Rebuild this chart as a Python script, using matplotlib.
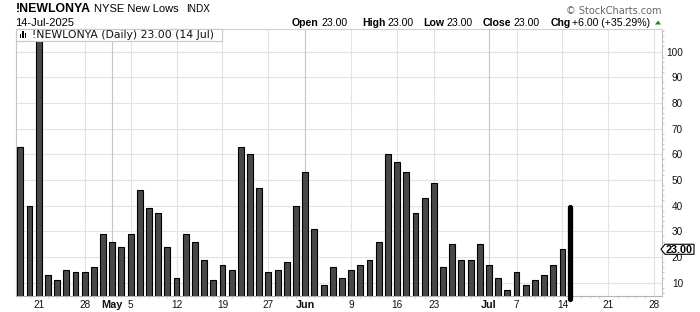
import matplotlib
matplotlib.use("Agg")
import matplotlib.pyplot as plt
import pandas as pd
from matplotlib.patches import Rectangle, Polygon
from matplotlib.ticker import FixedLocator, MultipleLocator

# ---------------- data ----------------
dates = [
    "2025-04-16", "2025-04-17", "2025-04-21", "2025-04-22", "2025-04-23", "2025-04-24",
    "2025-04-25", "2025-04-28", "2025-04-29", "2025-04-30", "2025-05-01", "2025-05-02",
    "2025-05-05", "2025-05-06", "2025-05-07", "2025-05-08", "2025-05-09", "2025-05-12",
    "2025-05-13", "2025-05-14", "2025-05-15", "2025-05-16", "2025-05-19", "2025-05-20",
    "2025-05-21", "2025-05-22", "2025-05-23", "2025-05-27", "2025-05-28", "2025-05-29",
    "2025-05-30", "2025-06-02", "2025-06-03", "2025-06-04", "2025-06-05", "2025-06-06",
    "2025-06-09", "2025-06-10", "2025-06-11", "2025-06-12", "2025-06-13", "2025-06-16",
    "2025-06-17", "2025-06-18", "2025-06-20", "2025-06-23", "2025-06-24", "2025-06-25",
    "2025-06-26", "2025-06-27", "2025-06-30", "2025-07-01", "2025-07-02", "2025-07-03",
    "2025-07-07", "2025-07-08", "2025-07-09", "2025-07-10", "2025-07-11", "2025-07-14",
]
new_lows = [
    63, 40, 112, 13, 11, 15, 14, 14, 16, 29, 26, 24, 29, 46, 39, 37, 24, 12, 29, 26,
    19, 11, 17, 15, 63, 60, 47, 14, 15, 18, 40, 53, 31, 9, 16, 12, 15, 17, 19, 26,
    60, 57, 53, 37, 43, 49, 16, 25, 19, 19, 25, 17, 12, 7, 14, 9, 11, 13, 17, 23,
]
live_bar_low = 3.7
live_bar_high = 39.5
last_value = 23.00

week_ticks = ["2025-04-21", "2025-04-28", "2025-05-05", "2025-05-12", "2025-05-19",
              "2025-05-27", "2025-06-09", "2025-06-16", "2025-06-23", "2025-07-07",
              "2025-07-14", "2025-07-21", "2025-07-28"]
week_labels = ["21", "28", "5", "12", "19", "27", "9", "16", "23", "7", "14", "21", "28"]
month_ticks = ["2025-05-01", "2025-06-02", "2025-07-01"]
month_labels = ["May", "Jun", "Jul"]
y_ticks = [10, 20, 30, 40, 50, 60, 70, 80, 90, 100]

# ---------------- figure ----------------
W, H = 700, 312
fig = plt.figure(figsize=(W / 100, H / 100), dpi=100)
fig.patch.set_facecolor("white")


def fx(x):
    return x / W


def fy(y):
    return 1 - y / H


ax = fig.add_axes([fx(16), fy(296), fx(662) - fx(16), fy(29) - fy(296)])

future = pd.bdate_range("2025-07-15", "2025-07-31")
axis_dates = pd.to_datetime(dates).append(future)
slot = {d.strftime("%Y-%m-%d"): i for i, d in enumerate(axis_dates)}

xs = list(range(len(new_lows)))
ax.bar(xs, new_lows, width=0.64, color="#484848", edgecolor="black",
       linewidth=0.8, zorder=3)

# live (current) bar
live_x = xs[-1] + 0.78
ax.plot([live_x, live_x], [live_bar_low, live_bar_high], color="black", lw=3.8,
        solid_capstyle="round", clip_on=False, zorder=4)

ax.set_xlim(-0.47, 69.83)
ax.set_ylim(4.8, 108.8)

# grid
for v in y_ticks:
    ax.axhline(v, color="#e3e3e3", lw=0.8, zorder=0)
for d in week_ticks:
    ax.axvline(slot[d], color="#e3e3e3", lw=0.8, zorder=0)
for d in month_ticks:
    ax.axvline(slot[d], color="#c6c6c6", lw=0.8, zorder=0)

# x ticks
xt_pos = [slot[d] for d in week_ticks] + [slot[d] for d in month_ticks]
xt_lab = week_labels + month_labels
ax.xaxis.set_major_locator(FixedLocator(xt_pos))
ax.set_xticklabels(xt_lab)
ax.xaxis.set_minor_locator(MultipleLocator(1))
ax.tick_params(axis="x", which="major", length=0, pad=3.2, labelsize=7.2,
               labelcolor="#111111")
ax.tick_params(axis="x", which="minor", length=1.6, width=0.5, color="#bbbbbb")
for lab in ax.get_xticklabels():
    lab.set_fontfamily("Liberation Sans")
    if lab.get_text() in month_labels:
        lab.set_fontweight("bold")
        lab.set_fontsize(7.8)

# y ticks (right)
ax.yaxis.tick_right()
ax.yaxis.set_major_locator(FixedLocator(y_ticks))
ax.yaxis.set_minor_locator(MultipleLocator(2))
ax.tick_params(axis="y", which="major", length=0, pad=15.2, labelsize=7.2,
               labelcolor="#111111")
ax.tick_params(axis="y", which="minor", length=1.6, width=0.5, color="#aaaaaa")
for lab in ax.get_yticklabels():
    lab.set_horizontalalignment("right")
    lab.set_fontfamily("Liberation Sans")

for side, col in [("left", "#c4c4c4"), ("bottom", "#b4b4b4"), ("top", "#d0d0d0"),
                  ("right", "#c0c0c0")]:
    ax.spines[side].set_color(col)
    ax.spines[side].set_linewidth(0.8)

# ---------------- legend box ----------------
fig.patches.append(Rectangle((fx(16), fy(41)), fx(222) - fx(16), fy(29) - fy(41),
                             transform=fig.transFigure, facecolor="white",
                             edgecolor="#c8c8c8", lw=0.8, zorder=10))
for (x0, y0, h) in [(19.5, 37.5, 3.5), (22, 37.5, 6), (24.5, 37.5, 4.5)]:
    fig.patches.append(Rectangle((fx(x0), fy(y0)), fx(1.8), fy(y0 - h) - fy(y0),
                                 transform=fig.transFigure, facecolor="black",
                                 edgecolor="none", zorder=11))
fig.text(fx(32.5), fy(38.3), "!NEWLONYA (Daily) 23.00 (14 Jul)",
         fontsize=7.8, family="DejaVu Sans", color="#111111", va="baseline",
         ha="left", zorder=12)

# ---------------- header ----------------
fig.text(fx(15.5), fy(11.8), "!NEWLONYA", fontsize=8.8, fontweight="bold",
         family="Liberation Sans", va="baseline", ha="left")
fig.text(fx(94), fy(11.8), "NYSE New Lows", fontsize=8.0,
         family="Liberation Sans", va="baseline", ha="left")
fig.text(fx(186), fy(11.8), "INDX", fontsize=7.2,
         family="Liberation Sans", va="baseline", ha="left")
fig.text(fx(15.5), fy(26), "14-Jul-2025", fontsize=8.0,
         family="Liberation Sans", va="baseline", ha="left")
fig.text(fx(662), fy(14), "\u00a9 StockCharts.com", fontsize=7.0,
         family="DejaVu Sans", color="#666666", va="baseline", ha="right")

# bold labels right-aligned just before their values
hdr_labels = [(318.5, "Open"), (385.5, "High"), (444, "Low"), (511, "Close"),
              (570.5, "Chg")]
hdr_values = [(321, "23.00"), (388, "23.00"), (446.5, "23.00"), (513.5, "23.00"),
              (572.5, "+6.00 (+35.29%)")]
for x0, t in hdr_labels:
    fig.text(fx(x0), fy(26), t, fontsize=7.6, family="Liberation Sans",
             fontweight="bold", va="baseline", ha="right")
for x0, t in hdr_values:
    fig.text(fx(x0), fy(26), t, fontsize=7.6, family="Liberation Sans",
             va="baseline", ha="left")
fig.patches.append(Polygon([(fx(655), fy(24.5)), (fx(661), fy(24.5)),
                            (fx(658), fy(20.5))], closed=True,
                           transform=fig.transFigure, facecolor="#1a8a1a",
                           edgecolor="none"))

# ---------------- last value tag ----------------
fig.canvas.draw()
y_disp = ax.transData.transform((0, last_value))[1]
y_img = H - y_disp
fig.patches.append(Polygon([(fx(661), fy(y_img)), (fx(665), fy(y_img - 5)),
                            (fx(694), fy(y_img - 5)), (fx(694), fy(y_img + 5)),
                            (fx(665), fy(y_img + 5))], closed=True,
                           transform=fig.transFigure, facecolor="white",
                           edgecolor="black", lw=0.8, zorder=10))
fig.text(fx(679.5), fy(y_img), f"{last_value:.2f}", fontsize=7.8,
         fontweight="bold", family="Liberation Sans", va="center_baseline",
         ha="center", zorder=11)

fig.savefig("out.png", dpi=100)
